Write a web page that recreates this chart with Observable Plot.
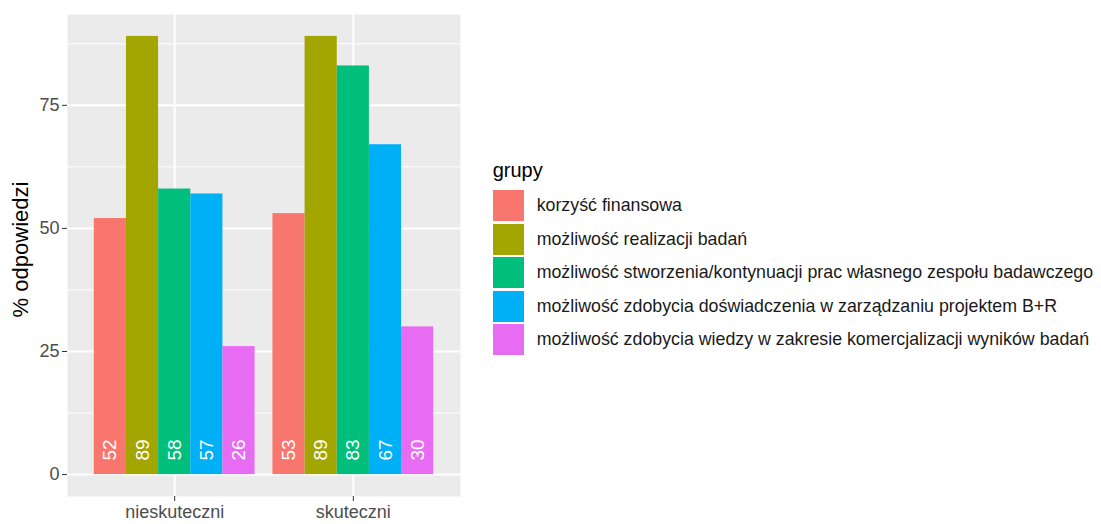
<!DOCTYPE html>
<html>
<head>
<meta charset="utf-8">
<script src="https://cdn.jsdelivr.net/npm/d3@7"></script>
<script src="https://cdn.jsdelivr.net/npm/@observablehq/plot@0.6"></script>
<style>
  body { margin: 0; background: #fff; font-family: "Liberation Sans", Arial, sans-serif; }
  #wrap { position: relative; width: 1101px; height: 524px; overflow: hidden; background: #fff; }
  #chart { position: absolute; left: 0; top: 0; }
  #legend { position: absolute; left: 492.7px; top: 160px; color: #000; }
  #legend .title { font-size: 20px; height: 29px; line-height: 20px; }
  #legend .row { display: flex; align-items: center; height: 33.5px; }
  #legend .sw { width: 31.6px; height: 31px; flex: none; }
  #legend .lab { margin-left: 12.4px; font-size: 17.8px; white-space: nowrap; color: #1a1a1a; }
</style>
</head>
<body>
<div id="wrap"><div id="chart"></div><div id="legend"></div></div>
<script>
const groups = ["nieskuteczni", "skuteczni"];
const categories = [
  "korzyść finansowa",
  "możliwość realizacji badań",
  "możliwość stworzenia/kontynuacji prac własnego zespołu badawczego",
  "możliwość zdobycia doświadczenia w zarządzaniu projektem B+R",
  "możliwość zdobycia wiedzy w zakresie komercjalizacji wyników badań"
];
const valuesNieskuteczni = [52, 89, 58, 57, 26];
const valuesSkuteczni = [53, 89, 83, 67, 30];
const colors = ["#F8766D", "#A3A500", "#00BF7D", "#00B0F6", "#E76BF3"];
const yTicks = [0, 25, 50, 75];
const yMinorTicks = [12.5, 37.5, 62.5, 87.5];
const yLabel = "% odpowiedzi";
const legendTitle = "grupy";
const labelY = 5;

const series = [valuesNieskuteczni, valuesSkuteczni];
const dodge = 0.9 / categories.length;
const groupPos = groups.map((g, i) => i + 1);
const data = [];
groups.forEach((g, gi) => {
  categories.forEach((c, ci) => {
    const center = groupPos[gi] + (ci - (categories.length - 1) / 2) * dodge;
    data.push({group: g, category: c, value: series[gi][ci], x1: center - dodge / 2, x2: center + dodge / 2, xc: center});
  });
});
const yMax = d3.max(data, d => d.value);
const pad = yMax * 0.05;

const font = "'Liberation Sans', Arial, sans-serif";
const chart = Plot.plot({
  width: 470,
  height: 524,
  marginLeft: 67,
  marginRight: 10,
  marginTop: 14,
  marginBottom: 28,
  style: {fontFamily: font, background: "transparent"},
  x: {type: "linear", domain: [0.4, 2.6], axis: null},
  y: {domain: [-pad, yMax + pad], axis: null},
  color: {domain: categories, range: colors},
  marks: [
    Plot.frame({fill: "#EBEBEB", stroke: null}),
    Plot.gridY(yMinorTicks, {stroke: "white", strokeOpacity: 1, strokeWidth: 1}),
    Plot.gridY(yTicks, {stroke: "white", strokeOpacity: 1, strokeWidth: 2}),
    Plot.gridX(groupPos, {stroke: "white", strokeOpacity: 1, strokeWidth: 2}),
    Plot.rectY(data, {x1: "x1", x2: "x2", y1: 0, y2: "value", fill: "category"}),
    Plot.text(data, {x: "xc", y: labelY, text: d => String(d.value), rotate: -90, fill: "white", fontSize: 19}),
    Plot.axisY(yTicks, {tickSize: 5, tickPadding: 3, fontSize: 18, stroke: "#333", fill: "#4D4D4D", label: null}),
    Plot.axisX(groupPos, {tickSize: 5, tickPadding: 4, fontSize: 18, stroke: "#333", fill: "#4D4D4D", label: null, tickFormat: d => groups[d - 1]}),
    Plot.text([yLabel], {frameAnchor: "left", dx: -46.5, dy: -6, rotate: -90, textAnchor: "middle", fontSize: 22, fill: "black", text: d => d})
  ]
});
document.getElementById("chart").appendChild(chart);

const colorScale = chart.scale("color");
const legend = document.getElementById("legend");
const t = document.createElement("div");
t.className = "title";
t.textContent = legendTitle;
legend.appendChild(t);
colorScale.domain.forEach((c, i) => {
  const row = document.createElement("div");
  row.className = "row";
  const sw = document.createElement("div");
  sw.className = "sw";
  sw.style.background = colorScale.range[i];
  const lab = document.createElement("div");
  lab.className = "lab";
  lab.textContent = c;
  row.appendChild(sw);
  row.appendChild(lab);
  legend.appendChild(row);
});
</script>
</body>
</html>
